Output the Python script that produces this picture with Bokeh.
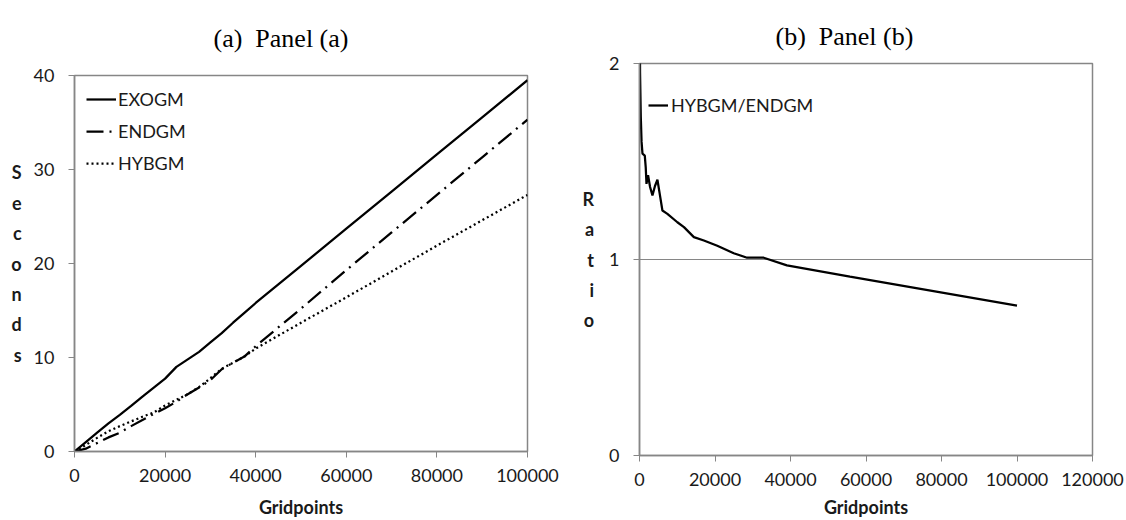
from bokeh.plotting import figure
from bokeh.models import (FixedTicker, BasicTickFormatter, Legend, LegendItem, Range1d)
from bokeh.embed import file_html
from bokeh.resources import INLINE

# ---------------- data ----------------
gridpoints_a = [0, 2500, 5000, 7500, 10000, 12500, 15000, 17500, 20000, 22500, 25000,
                27500, 30000, 32500, 35000, 37500, 40000, 50000, 60000, 70000, 80000,
                90000, 100000]
exogm = [0, 1.0, 2.0, 3.0, 3.9, 4.85, 5.85, 6.8, 7.75, 9.0, 9.8,
         10.6, 11.6, 12.6, 13.7, 14.75, 15.8, 19.75, 23.7, 27.65, 31.6,
         35.55, 39.5]
endgm = [0, 0.3, 0.9, 1.5, 2.0, 2.7, 3.35, 4.0, 4.6, 5.3, 6.1,
         6.8, 7.6, 8.75, 9.45, 10.1, 11.2, 15.2, 19.3, 23.3, 27.3,
         31.3, 35.3]
hybgm = [0, 0.7, 1.45, 2.15, 2.7, 3.2, 3.7, 4.15, 4.9, 5.5, 6.1,
         6.85, 7.8, 8.8, 9.45, 10.1, 10.95, 13.7, 16.4, 19.15, 21.9,
         24.6, 27.3]

gridpoints_b = [50, 150, 340, 550, 790, 1400, 1650, 1850, 2270, 2800, 3430, 4100, 4750,
                5400, 6070, 7390, 10030, 11780, 14400, 17050, 20600, 24960, 28500,
                32900, 39050, 55750, 100000]
ratio = [2.3, 1.95, 1.73, 1.6, 1.54, 1.53, 1.47, 1.386, 1.43, 1.37, 1.327, 1.375, 1.407,
         1.33, 1.25, 1.233, 1.19, 1.165, 1.114, 1.097, 1.07, 1.032, 1.009,
         1.009, 0.97, 0.913, 0.765]

xticks_a = [0, 20000, 40000, 60000, 80000, 100000]
yticks_a = [0, 10, 20, 30, 40]
xticks_b = [0, 20000, 40000, 60000, 80000, 100000, 120000]
yticks_b = [0, 1, 2]

FONT = "Lato"
SERIF = "Liberation Serif"
AXIS_GRAY = "#868686"
TEXT = "#1a1a1a"


def style(p, xticks, yticks, ylabel):
    p.xaxis.ticker = FixedTicker(ticks=xticks)
    p.yaxis.ticker = FixedTicker(ticks=yticks)
    p.xaxis.formatter = BasicTickFormatter(use_scientific=False)
    p.yaxis.formatter = BasicTickFormatter(use_scientific=False)
    for ax in (p.xaxis[0], p.yaxis[0]):
        ax.axis_line_color = AXIS_GRAY
        ax.axis_line_width = 1.5
        ax.major_tick_line_color = AXIS_GRAY
        ax.major_tick_out = 6
        ax.major_tick_in = 0
        ax.minor_tick_line_color = None
        ax.major_label_text_font = FONT
        ax.major_label_text_font_size = "18px"
        ax.major_label_text_color = TEXT
        ax.axis_label_text_font = FONT
        ax.axis_label_text_font_size = "18px"
        ax.axis_label_text_font_style = "bold"
        ax.axis_label_text_color = TEXT
    p.xaxis.axis_label = "Gridpoints"
    p.xaxis.major_label_standoff = 11
    p.xaxis.axis_label_standoff = 11
    p.yaxis.axis_label = "\n".join(list(ylabel))
    p.yaxis.axis_label_orientation = "horizontal"
    p.yaxis.axis_label_text_line_height = 1.38
    p.yaxis.major_label_standoff = 14
    p.yaxis.axis_label_standoff = 9
    p.outline_line_color = AXIS_GRAY
    p.outline_line_width = 1.5
    p.xgrid.grid_line_color = None
    p.title.text_font = SERIF
    p.title.text_font_size = "26px"
    p.title.text_font_style = "normal"
    p.title.text_color = "#000000"
    p.title.align = "left"
    p.title.vertical_align = "middle"


# ---------------- panel (a) ----------------
pa = figure(width=560, height=520, output_backend="svg", toolbar_location=None,
            x_range=Range1d(0, 100000), y_range=Range1d(0, 40),
            min_border_left=74, min_border_right=33, min_border_top=73, min_border_bottom=69,
            title="(a)\u2002Panel (a)")
style(pa, xticks_a, yticks_a, "Seconds")
pa.ygrid.grid_line_color = None
pa.title.offset = 139
pa.title.standoff = 44

r1 = pa.line(gridpoints_a, exogm, line_color="black", line_width=2.25)
r2 = pa.line(gridpoints_a, endgm, line_color="black", line_width=2.25, line_dash="17 6 2 6")
r3 = pa.line(gridpoints_a, hybgm, line_color="black", line_width=2.25, line_dash="2 3")

leg_a = Legend(items=[LegendItem(label="EXOGM", renderers=[r1]),
                      LegendItem(label="ENDGM", renderers=[r2]),
                      LegendItem(label="HYBGM", renderers=[r3])],
               location=(12, 277), padding=0, margin=0, spacing=10,
               glyph_width=30, glyph_height=20, label_height=20, label_standoff=2,
               label_text_font=FONT, label_text_font_size="18px", label_text_color=TEXT,
               border_line_color=None, background_fill_alpha=0)
pa.add_layout(leg_a, "center")

# ---------------- panel (b) ----------------
pb = figure(width=566, height=520, output_backend="svg", toolbar_location=None,
            x_range=Range1d(0, 120000), y_range=Range1d(0, 2),
            min_border_left=79, min_border_right=34, min_border_top=63, min_border_bottom=65,
            title="(b)\u2002Panel (b)")
style(pb, xticks_b, yticks_b, "Ratio")
pb.xaxis.axis_label_standoff = 7
pb.yaxis.axis_label_standoff = 12
pb.ygrid.ticker = FixedTicker(ticks=[1])
pb.ygrid.grid_line_color = AXIS_GRAY
pb.ygrid.grid_line_width = 1
pb.title.offset = 136
pb.title.standoff = 24

r4 = pb.line(gridpoints_b, ratio, line_color="black", line_width=2.25)
leg_b = Legend(items=[LegendItem(label="HYBGM/ENDGM", renderers=[r4])],
               location=(9, 339), padding=0, margin=0,
               glyph_width=20, glyph_height=20, label_height=20, label_standoff=3,
               label_text_font=FONT, label_text_font_size="18px", label_text_color=TEXT,
               border_line_color=None, background_fill_alpha=0)
pb.add_layout(leg_b, "center")

# two independent roots side by side (so each plot frame keeps its own position)
TEMPLATE = """
{% block postamble %}
<style>
  body { display: flex !important; flex-direction: row; align-items: flex-start; }
</style>
{% endblock %}
"""

open("out.html", "w").write(file_html([pa, pb], INLINE, template=TEMPLATE))
